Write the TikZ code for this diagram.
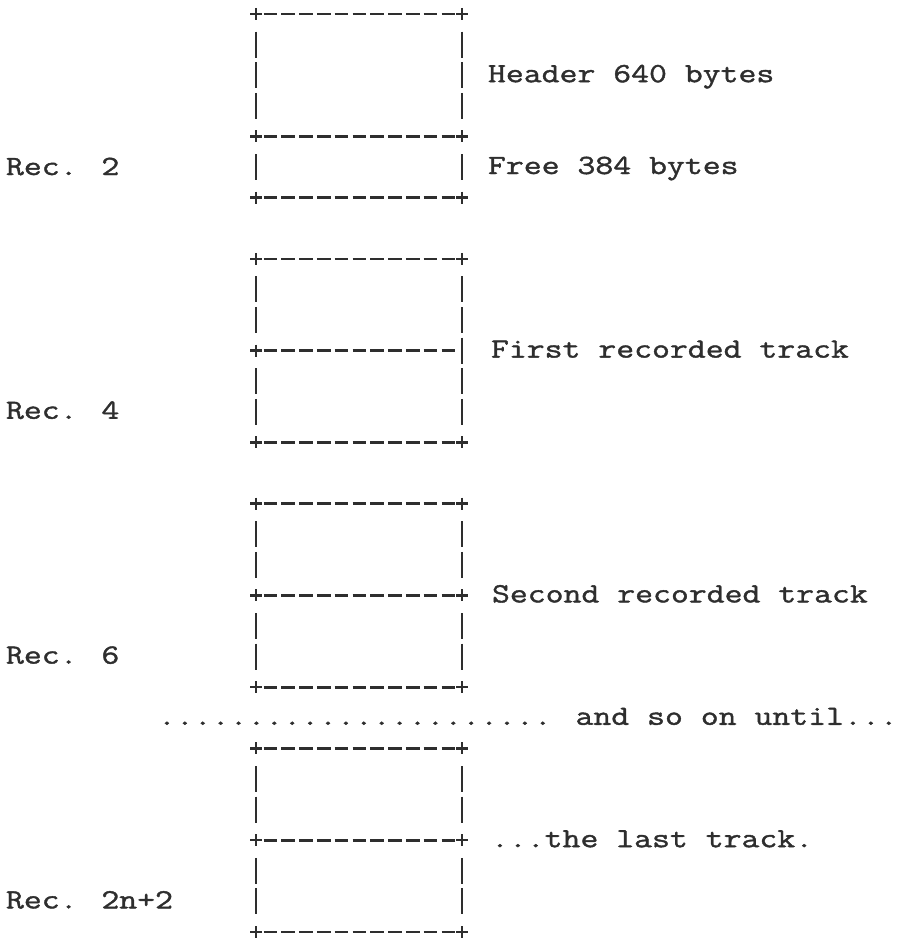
\documentclass[tikz,border=0pt]{standalone}
\usepackage{fontspec}
\newfontfamily\typew{Latin Modern Mono}[FakeStretch=1.25,FakeBold=1.4]
\definecolor{ink}{gray}{0.18}
\begin{document}
\begin{tikzpicture}[x=1pt,y=-1pt,
  lbl/.style={anchor=base west,inner sep=0pt,outer sep=0pt,text=ink,
    font=\typew\fontsize{27.8pt}{30pt}\selectfont},
  hdash/.style={draw=ink,line width=2.6pt,dash pattern=on 13.6pt off 4.2pt},
  vdash/.style={draw=ink,line width=2.3pt,dash pattern=on 26pt off 4.6pt},
  plusmark/.style={draw=ink,line width=2.5pt}]
\useasboundingbox (0,0) rectangle (911,947);
\def\xl{256}\def\xr{462}
% row centres c_r = 14 + 30.6 r
% Box A: rows 0,4,6
\coordinate (aTL) at (\xl,14);    \coordinate (aTR) at (\xr,14);
\coordinate (aML) at (\xl,136.4); \coordinate (aMR) at (\xr,136.4);
\coordinate (aBL) at (\xl,197.6); \coordinate (aBR) at (\xr,197.6);
% Box B: rows 8,11,14
\coordinate (bTL) at (\xl,258.8); \coordinate (bTR) at (\xr,258.8);
\coordinate (bML) at (\xl,350.6); \coordinate (bMR) at (\xr,350.6);
\coordinate (bBL) at (\xl,442.4); \coordinate (bBR) at (\xr,442.4);
% Box C: rows 16,19,22
\coordinate (cTL) at (\xl,503.6); \coordinate (cTR) at (\xr,503.6);
\coordinate (cML) at (\xl,595.4); \coordinate (cMR) at (\xr,595.4);
\coordinate (cBL) at (\xl,687.2); \coordinate (cBR) at (\xr,687.2);
% Box D: rows 24,27,30
\coordinate (dTL) at (\xl,748.4); \coordinate (dTR) at (\xr,748.4);
\coordinate (dML) at (\xl,840.2); \coordinate (dMR) at (\xr,840.2);
\coordinate (dBL) at (\xl,932);   \coordinate (dBR) at (\xr,932);

% horizontal dashed rules
\foreach \b in {a,b,c,d}{
  \foreach \r in {T,M,B}{
    \draw[hdash] ([xshift=7.5pt]\b\r L) -- ([xshift=-7.5pt]\b\r R);
  }
}
% vertical dashed rules
\foreach \b in {a,b,c,d}{
  \draw[vdash] ([yshift=-17.6pt]\b TL) -- ([yshift=17.6pt]\b ML);
  \draw[vdash] ([yshift=-17.6pt]\b ML) -- ([yshift=17.6pt]\b BL);
}
\foreach \b in {a,c,d}{
  \draw[vdash] ([yshift=-17.6pt]\b TR) -- ([yshift=17.6pt]\b MR);
  \draw[vdash] ([yshift=-17.6pt]\b MR) -- ([yshift=17.6pt]\b BR);
}
\draw[vdash] ([yshift=-17.6pt]bTR) -- ([yshift=17.6pt]bBR);
% plus marks
\foreach \p in {aTL,aTR,aML,aMR,aBL,aBR,bTL,bTR,bML,bBL,bBR,
                cTL,cTR,cML,cMR,cBL,cBR,dTL,dTR,dML,dMR,dBL,dBR}{
  \draw[plusmark] (\p) ++(-6,0) -- ++(12,0) (\p) ++(0,-6) -- ++(0,12);
}

% labels (baselines b_r = 21 + 30.6 r)
\node[lbl] (hdr)    at (488,82.2)  {Header 640 bytes};
\node[lbl] (free)   at (488,174)   {Free 384 bytes};
\node[lbl] (rec2)   at (6,175)     {Rec. 2};
\node[lbl] (first)  at (491,357.6) {First recorded track};
\node[lbl] (rec4)   at (6,418.8)   {Rec. 4};
\node[lbl] (second) at (492,602.4) {Second recorded track};
\node[lbl] (rec6)   at (6,663.6)   {Rec. 6};
\node[lbl] (dots)   at (158,724.8) {...................... and so on until...};
\node[lbl] (last)   at (491,847.2) {...the last track.};
\node[lbl] (rec2n)  at (6,908.4)   {Rec. 2n+2};
\end{tikzpicture}
\end{document}
